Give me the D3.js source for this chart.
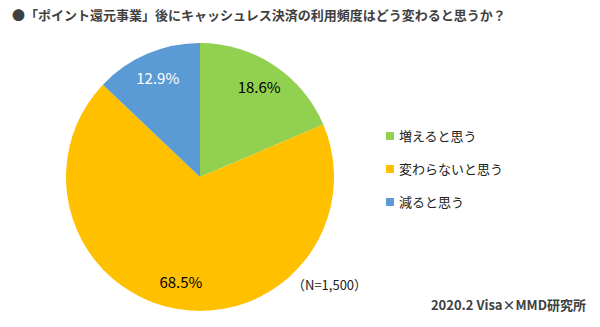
<!DOCTYPE html>
<html>
<head>
<meta charset="utf-8">
<script src="https://cdn.jsdelivr.net/npm/d3@7"></script>
<style>
  html, body { margin: 0; padding: 0; background: #fff; }
  svg text { font-family: "Noto Sans CJK JP", "Noto Sans", sans-serif; }
</style>
</head>
<body>
<svg id="chart" width="600" height="327"></svg>
<script>
const categories = ["増えると思う", "変わらないと思う", "減ると思う"];
const values = [18.6, 68.5, 12.9];
const colors = ["#92D050", "#FFC000", "#5B9BD5"];
const labelColors = ["#000", "#000", "#fff"];

const svg = d3.select("#chart");
const cx = 200, cy = 177, r = 134;

// Title
svg.append("text")
  .attr("x", 12).attr("y", 20)
  .attr("font-size", 13).attr("font-weight", "bold").attr("fill", "#404040")
  .text("●「ポイント還元事業」後にキャッシュレス決済の利用頻度はどう変わると思うか？");

const data = categories.map((c, i) => ({ cat: c, value: values[i], color: colors[i], lc: labelColors[i] }));

const pie = d3.pie().value(d => d.value).sort(null);
const arc = d3.arc().innerRadius(0).outerRadius(r);
const labelArc = d3.arc().innerRadius(r * 0.8).outerRadius(r * 0.8);

const g = svg.append("g").attr("transform", `translate(${cx},${cy})`);
const arcs = pie(data);

g.selectAll("path").data(arcs).enter().append("path")
  .attr("d", arc).attr("fill", d => d.data.color);

g.selectAll("text.lbl").data(arcs).enter().append("text")
  .attr("class", "lbl")
  .attr("transform", d => `translate(${labelArc.centroid(d)})`)
  .attr("text-anchor", "middle").attr("dy", "0.35em")
  .attr("font-size", 15).attr("fill", d => d.data.lc)
  .text(d => d.data.value.toFixed(1) + "%");

// Legend
const legend = svg.append("g").attr("transform", "translate(386,136)");
const rows = legend.selectAll("g").data(data).enter().append("g")
  .attr("transform", (d, i) => `translate(0,${i * 33})`);
rows.append("rect").attr("x", 0).attr("y", -4).attr("width", 8).attr("height", 8)
  .attr("fill", d => d.color);
rows.append("text").attr("x", 13).attr("dy", "0.35em")
  .attr("font-size", 13).attr("fill", "#222").text(d => d.cat);

svg.append("text").attr("x", 292).attr("y", 290)
  .attr("font-size", 13).attr("fill", "#222").text("（N=1,500）");

svg.append("text").attr("x", 586).attr("y", 310).attr("text-anchor", "end")
  .attr("font-size", 13).attr("font-weight", "bold").attr("fill", "#404040")
  .text("2020.2 Visa×MMD研究所");
</script>
</body>
</html>
